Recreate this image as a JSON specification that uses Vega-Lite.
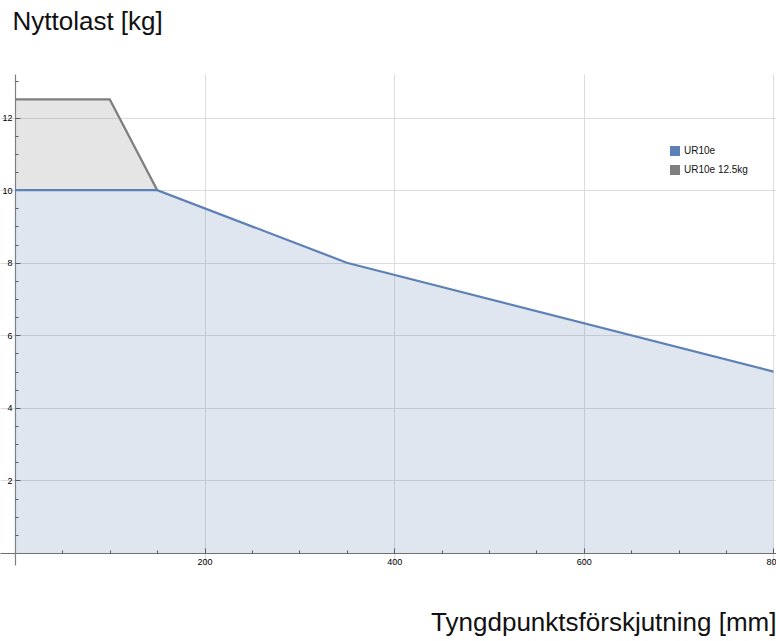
{
  "$schema": "https://vega.github.io/schema/vega-lite/v6.json",
  "width": 776,
  "height": 491,
  "autosize": "none",
  "padding": {"top": 74, "left": 0, "right": 0, "bottom": 76},
  "config": {
    "view": {"stroke": null},
    "font": "Liberation Sans",
    "axis": {"labelFont": "Liberation Sans", "titleFont": "Liberation Sans"}
  },
  "datasets": {
    "pts": [
      {"series": "UR10e", "x": 0, "y": 10},
      {"series": "UR10e", "x": 150, "y": 10},
      {"series": "UR10e", "x": 350, "y": 8},
      {"series": "UR10e", "x": 800, "y": 5},
      {"series": "UR10e 12.5kg", "x": 0, "y": 12.5, "base": 10},
      {"series": "UR10e 12.5kg", "x": 100, "y": 12.5, "base": 10},
      {"series": "UR10e 12.5kg", "x": 150, "y": 10, "base": 10}
    ]
  },
  "data": {"name": "pts"},
  "resolve": {"axis": {"x": "independent", "y": "independent"}},
  "layer": [
    {
      "transform": [{"filter": "datum.series === 'UR10e'"}],
      "mark": {"type": "area", "fill": "#5e81b5", "fillOpacity": 0.2, "stroke": null},
      "encoding": {
        "x": {
          "field": "x", "type": "quantitative",
          "scale": {"domain": [-15.8, 802.7], "nice": false, "zero": false},
          "axis": {
            "orient": "bottom", "offset": -12, "values": [200, 400, 600, 800],
            "ticks": false, "labelPadding": 4, "labelFontSize": 9, "labelColor": "#000",
            "grid": true, "gridColor": "#dcdcdc", "gridWidth": 1,
            "domainColor": "#707070", "domainWidth": 1.2,
            "labelFlush": false, "labelOverlap": false,
            "title": "Tyngdpunktsförskjutning [mm]",
            "titleFontSize": 26, "titleFontWeight": "normal", "titleColor": "#111",
            "titleAngle": 0, "titleAlign": "right", "titleBaseline": "alphabetic",
            "titleX": 776, "titleY": 77
          }
        },
        "y": {
          "field": "y", "type": "quantitative",
          "scale": {"domain": [-0.33, 13.2], "nice": false, "zero": false},
          "axis": {
            "orient": "left", "offset": -15, "values": [2, 4, 6, 8, 10, 12],
            "ticks": false, "labelPadding": 3, "labelFontSize": 9, "labelColor": "#000",
            "grid": true, "gridColor": "#dcdcdc", "gridWidth": 1,
            "domainColor": "#808080", "domainWidth": 1.2,
            "labelFlush": false, "labelOverlap": false,
            "title": "Nyttolast [kg]",
            "titleFontSize": 26, "titleFontWeight": "normal", "titleColor": "#111",
            "titleAngle": 0, "titleAlign": "left", "titleBaseline": "alphabetic",
            "titleX": -3, "titleY": -45
          }
        },
        "y2": {"datum": 0}
      }
    },
    {
      "transform": [{"filter": "datum.series === 'UR10e 12.5kg'"}],
      "mark": {"type": "area", "fill": "#7f7f7f", "fillOpacity": 0.2, "stroke": null},
      "encoding": {
        "x": {"field": "x", "type": "quantitative", "axis": null},
        "y": {"field": "y", "type": "quantitative", "axis": null},
        "y2": {"field": "base"}
      }
    },
    {
      "transform": [{"filter": "datum.series === 'UR10e 12.5kg'"}],
      "mark": {"type": "line", "strokeWidth": 2.2},
      "encoding": {
        "x": {
          "field": "x", "type": "quantitative",
          "axis": {
            "orient": "bottom", "offset": -12,
            "values": [50, 100, 150, 250, 300, 350, 450, 500, 550, 650, 700, 750],
            "ticks": true, "tickSize": -3, "tickColor": "#555", "tickWidth": 1,
            "labels": false, "grid": false, "domain": false, "title": null
          }
        },
        "y": {
          "field": "y", "type": "quantitative",
          "axis": {
            "orient": "left", "offset": -15,
            "values": [0.5, 1, 1.5, 2.5, 3, 3.5, 4.5, 5, 5.5, 6.5, 7, 7.5, 8.5, 9, 9.5, 10.5, 11, 11.5, 12.5, 13],
            "ticks": true, "tickSize": -3, "tickColor": "#555", "tickWidth": 1,
            "labels": false, "grid": false, "domain": false, "title": null
          }
        },
        "color": {
          "field": "series", "type": "nominal",
          "scale": {"domain": ["UR10e", "UR10e 12.5kg"], "range": ["#5e81b5", "#7f7f7f"]},
          "legend": {
            "orient": "none", "legendX": 670, "legendY": 72, "title": null,
            "symbolType": "square", "symbolSize": 100, "symbolStrokeWidth": 0,
            "labelFontSize": 10, "labelColor": "#111", "labelOffset": 4,
            "rowPadding": 9, "padding": 0,
            "encode": {"symbols": {"update": {"fill": {"scale": "color", "field": "value"}, "fillOpacity": {"value": 1}, "strokeWidth": {"value": 0}}}}
          }
        }
      }
    },
    {
      "transform": [{"filter": "datum.series === 'UR10e'"}],
      "mark": {"type": "line", "strokeWidth": 2.2},
      "encoding": {
        "x": {
          "field": "x", "type": "quantitative",
          "axis": {
            "orient": "bottom", "offset": -12, "values": [200, 400, 600, 800],
            "ticks": true, "tickSize": -5, "tickColor": "#555", "tickWidth": 1,
            "labels": false, "grid": false, "domain": false, "title": null
          }
        },
        "y": {
          "field": "y", "type": "quantitative",
          "axis": {
            "orient": "left", "offset": -15, "values": [2, 4, 6, 8, 10, 12],
            "ticks": true, "tickSize": -5, "tickColor": "#555", "tickWidth": 1,
            "labels": false, "grid": false, "domain": false, "title": null
          }
        },
        "color": {"field": "series", "type": "nominal"}
      }
    }
  ]
}
